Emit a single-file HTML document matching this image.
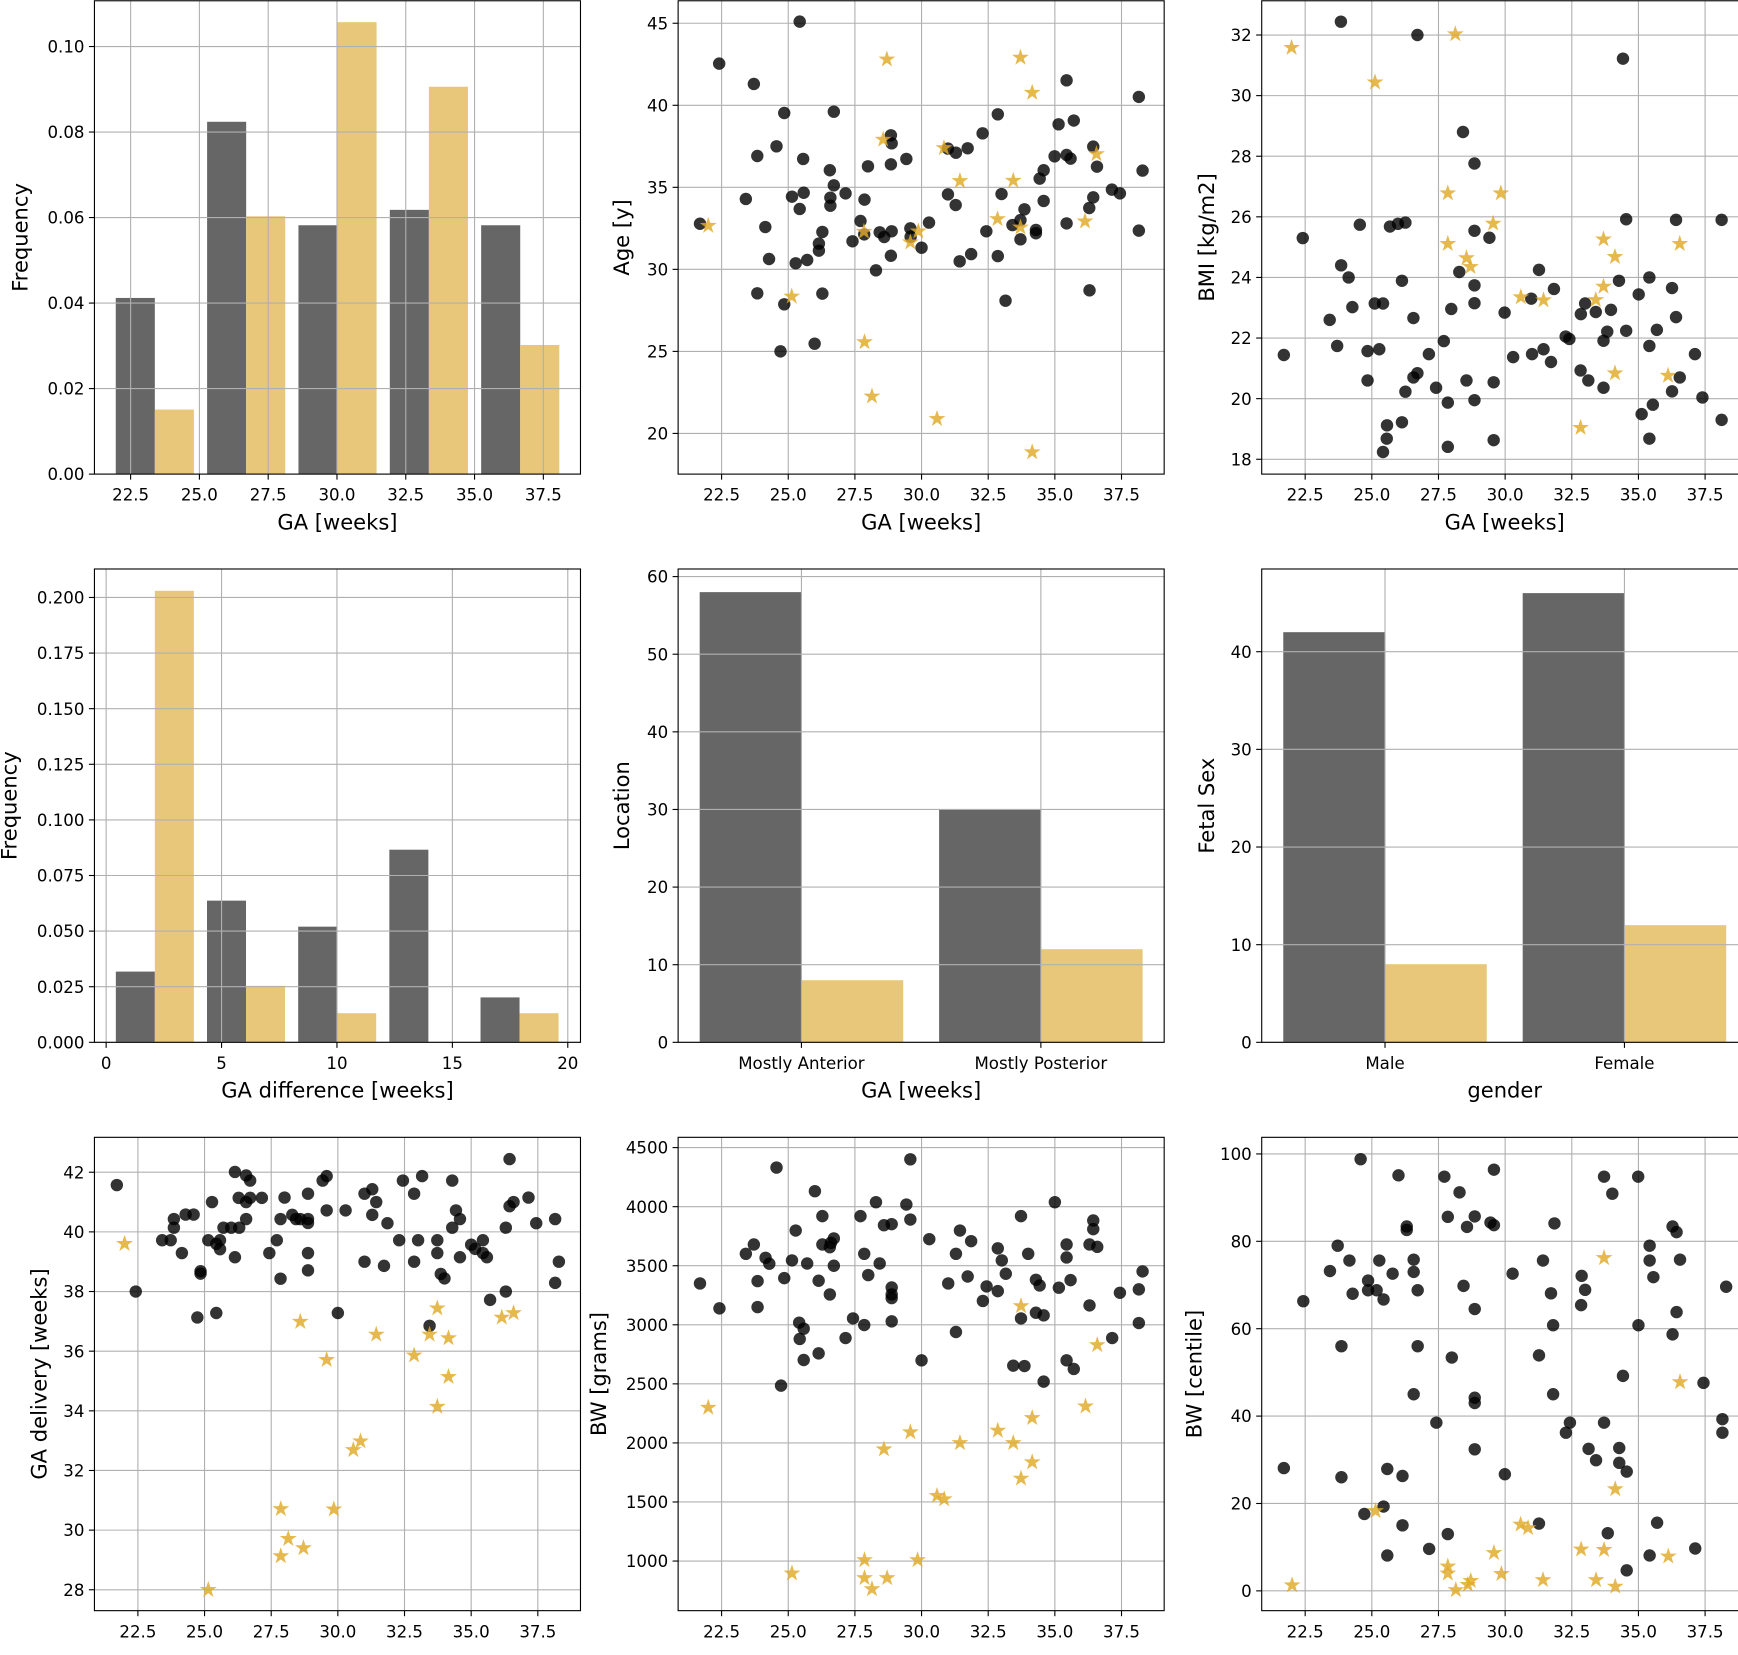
<!DOCTYPE html>
<html><head><meta charset="utf-8">
<style>
html,body{margin:0;padding:0;background:#fff;}
svg{display:block;}
text{font-family:"DejaVu Sans","Liberation Sans",sans-serif;fill:#000;}
</style></head>
<body>
<svg id="fig" xmlns="http://www.w3.org/2000/svg" width="1738" height="1655" viewBox="0 0 1568 1493" preserveAspectRatio="none"></svg>
<script>
// ---------- DATA ----------
const gaTicks = [22.5, 25.0, 27.5, 30.0, 32.5, 35.0, 37.5];
// Panel 1: GA histogram
const gaHistStart = 21.96, gaHistBin = 3.32;
const gaHistCtrl = [0.0412, 0.0824, 0.0582, 0.0618, 0.0582];
const gaHistCase = [0.0151, 0.0603, 0.1057, 0.0906, 0.0302];
const gaHistYTicks = [0.00, 0.02, 0.04, 0.06, 0.08, 0.10];
// Panel 4: GA difference histogram
const diffStart = 0.42, diffBin = 3.95;
const diffCtrl = [0.0318, 0.0637, 0.052, 0.0866, 0.0202];
const diffCase = [0.203, 0.0254, 0.0131, 0, 0.0131];
const diffXTicks = [0, 5, 10, 15, 20];
const diffYTicks = [0.000, 0.025, 0.050, 0.075, 0.100, 0.125, 0.150, 0.175, 0.200];
// Panel 5: location
const locCats = ["Mostly Anterior", "Mostly Posterior"];
const locCtrl = [58, 30];
const locCase = [8, 12];
const locYTicks = [0, 10, 20, 30, 40, 50, 60];
// Panel 6: fetal sex
const sexCats = ["Male", "Female"];
const sexCtrl = [42, 46];
const sexCase = [8, 12];
const sexYTicks = [0, 10, 20, 30, 40];
// Panel 2: Age
const ageYTicks = [20, 25, 30, 35, 40, 45];
const ageCtrl = [[25.43,45.1],[22.41,42.54],[23.71,41.3],[24.85,39.53],[26.71,39.61],[24.56,37.5],[23.84,36.91],[25.56,36.73],[28.85,38.17],[28.88,37.68],[28.85,36.4],[29.43,36.73],[27.99,36.28],[26.56,36.04],[26.71,35.12],[23.41,34.29],[25.14,34.43],[25.58,34.67],[26.58,34.37],[26.58,33.88],[27.15,34.63],[27.86,34.25],[25.43,33.68],[27.71,32.95],[24.14,32.58],[26.28,32.28],[27.85,32.13],[26.15,31.57],[26.15,31.14],[27.41,31.71],[28.43,32.26],[28.6,31.97],[28.88,32.32],[29.58,32.5],[29.59,31.99],[30.0,31.32],[30.28,32.85],[28.85,30.83],[24.28,30.63],[25.28,30.37],[25.71,30.57],[28.29,29.94],[23.84,28.54],[24.85,27.87],[26.28,28.52],[25.99,25.47],[24.71,25.0],[30.99,37.36],[31.29,37.11],[31.73,37.38],[32.29,38.29],[32.86,39.45],[30.99,34.57],[31.28,33.92],[32.43,32.32],[31.86,30.93],[31.43,30.49],[32.86,30.81],[33.15,28.09],[33.0,34.59],[33.41,32.7],[33.71,33.0],[33.86,33.66],[33.71,31.83],[34.29,32.4],[34.29,32.2],[34.99,36.89],[35.44,36.97],[35.59,36.75],[35.14,38.84],[35.71,39.07],[35.44,41.52],[34.43,35.53],[34.58,36.04],[34.58,34.17],[35.44,32.8],[36.3,28.72],[36.29,33.74],[36.44,34.39],[36.44,37.48],[36.58,36.26],[37.14,34.86],[37.44,34.63],[38.15,40.51],[38.29,36.02],[38.15,32.36],[21.69,32.78]];
const ageCase = [[22.0,32.66],[28.7,42.8],[33.71,42.91],[34.15,40.77],[28.56,37.91],[30.84,37.4],[31.44,35.39],[33.44,35.41],[36.56,37.03],[32.85,33.07],[33.71,32.56],[36.13,32.93],[27.84,32.3],[29.88,32.32],[29.58,31.65],[25.13,28.35],[27.86,25.57],[28.14,22.26],[30.58,20.89],[34.15,18.86]];
// Panel 3: BMI
const bmiYTicks = [18, 20, 22, 24, 26, 28, 30, 32];
const bmiCtrl = [[23.84,32.44],[26.71,32.0],[34.42,31.22],[28.42,28.8],[28.85,27.76],[24.55,25.74],[22.41,25.3],[25.68,25.68],[25.98,25.77],[26.26,25.81],[28.85,25.54],[29.41,25.31],[34.54,25.92],[36.41,25.9],[38.12,25.9],[23.85,24.4],[24.13,24.0],[26.13,23.89],[28.28,24.18],[31.27,24.25],[28.85,23.74],[31.83,23.62],[34.27,23.89],[35.41,24.0],[36.26,23.65],[35.01,23.44],[24.27,23.02],[25.11,23.14],[25.42,23.14],[23.42,22.6],[26.56,22.66],[27.98,22.96],[28.85,23.15],[29.98,22.84],[30.98,23.3],[33.0,23.14],[32.84,22.79],[33.4,22.86],[33.97,22.93],[36.41,22.69],[33.83,22.21],[34.54,22.24],[35.69,22.27],[32.27,22.05],[32.41,21.97],[33.69,21.91],[23.7,21.74],[21.7,21.44],[24.84,21.57],[25.28,21.63],[27.14,21.47],[27.7,21.9],[30.3,21.37],[31.01,21.47],[31.44,21.63],[31.72,21.21],[35.41,21.74],[37.12,21.47],[24.84,20.6],[26.56,20.7],[26.71,20.84],[27.41,20.36],[28.55,20.6],[29.57,20.54],[32.83,20.93],[33.12,20.6],[33.69,20.36],[36.55,20.7],[36.26,20.24],[26.26,20.23],[27.85,19.87],[28.85,19.95],[37.4,20.04],[35.54,19.8],[35.12,19.49],[38.12,19.3],[25.57,19.12],[26.13,19.22],[25.56,18.68],[25.42,18.24],[27.85,18.41],[29.57,18.63],[35.41,18.68]];
const bmiCase = [[21.99,31.58],[28.13,32.03],[25.12,30.44],[27.85,26.78],[29.84,26.78],[29.55,25.78],[27.85,25.11],[28.55,24.64],[28.7,24.35],[33.69,25.26],[34.12,24.68],[36.55,25.11],[33.69,23.7],[33.4,23.26],[30.59,23.35],[31.44,23.25],[34.12,20.84],[36.11,20.76],[32.83,19.04]];
// Panel 7: GA delivery
const delYTicks = [28, 30, 32, 34, 36, 38, 40, 42];
const delCtrl = [[21.71,41.57],[22.42,38.0],[24.73,37.13],[25.44,37.28],[23.41,39.72],[23.73,39.72],[23.85,40.43],[23.85,40.14],[24.15,39.29],[24.29,40.58],[24.59,40.58],[24.85,38.68],[24.85,38.6],[25.14,39.72],[25.28,41.0],[25.44,39.6],[25.58,39.72],[25.58,39.42],[25.71,40.14],[26.0,40.14],[26.14,42.01],[26.14,39.15],[26.28,41.14],[26.3,40.14],[26.56,41.89],[26.71,41.72],[26.56,41.0],[26.71,41.14],[27.15,41.14],[26.56,40.43],[27.43,39.29],[27.71,39.72],[27.85,38.43],[27.85,40.43],[28.0,41.15],[28.29,40.57],[28.43,40.43],[28.59,40.43],[28.88,40.43],[28.88,40.3],[28.88,41.28],[28.88,39.29],[28.88,38.71],[29.43,41.72],[29.58,41.87],[29.58,40.72],[30.0,37.28],[30.29,40.72],[31.0,41.28],[31.29,41.43],[31.44,41.0],[31.29,40.57],[31.86,40.29],[31.0,39.0],[31.73,38.86],[32.3,39.72],[32.44,41.72],[32.86,41.28],[33.16,41.87],[33.01,39.72],[32.86,39.0],[33.44,36.85],[33.73,39.72],[33.73,39.29],[33.86,38.59],[34.0,38.44],[34.29,41.72],[34.43,40.72],[34.58,40.43],[34.29,40.14],[34.58,39.15],[35.0,39.57],[35.15,39.43],[35.44,39.72],[35.44,39.29],[35.59,39.15],[35.71,37.72],[36.3,38.0],[36.3,40.14],[36.44,40.86],[36.59,41.0],[36.44,42.44],[37.15,41.15],[37.44,40.29],[38.15,40.43],[38.29,39.0],[38.15,38.29]];
const delCase = [[22.0,39.6],[28.59,36.99],[29.58,35.71],[31.44,36.56],[32.86,35.86],[33.44,36.56],[33.73,37.44],[34.15,36.44],[34.15,35.14],[33.73,34.14],[36.15,37.13],[36.59,37.28],[30.85,32.98],[30.58,32.69],[27.86,30.71],[29.85,30.7],[28.14,29.71],[28.71,29.4],[27.86,29.13],[25.14,28.0]];
// Panel 8: BW grams
const bwYTicks = [1000, 1500, 2000, 2500, 3000, 3500, 4000, 4500];
const bwCtrl = [[29.58,4401],[24.56,4331],[26.0,4131],[28.29,4038],[29.43,4018],[35.0,4038],[26.28,3920],[27.71,3920],[28.59,3843],[28.88,3852],[29.58,3891],[33.73,3920],[36.44,3883],[36.44,3810],[25.28,3798],[30.29,3725],[31.44,3798],[31.86,3708],[23.71,3680],[26.28,3680],[26.56,3657],[26.71,3731],[26.6,3694],[32.86,3647],[35.44,3680],[36.3,3680],[36.59,3660],[23.41,3601],[24.15,3567],[24.29,3517],[25.14,3545],[25.71,3519],[26.71,3500],[27.85,3601],[28.43,3519],[31.29,3601],[33.01,3545],[34.0,3601],[35.44,3570],[21.69,3350],[23.85,3370],[24.85,3395],[26.14,3373],[28.0,3421],[26.56,3257],[28.88,3316],[28.88,3257],[28.88,3226],[31.0,3350],[31.73,3409],[32.44,3325],[32.86,3285],[33.16,3432],[34.29,3381],[34.43,3333],[35.15,3314],[35.59,3378],[32.3,3202],[37.44,3271],[38.15,3300],[38.29,3452],[36.3,3164],[22.42,3139],[23.85,3150],[33.73,3054],[34.29,3102],[34.58,3080],[25.41,3018],[25.58,2967],[25.43,2880],[27.43,3054],[27.85,2998],[28.88,3029],[27.15,2888],[31.29,2939],[38.15,3015],[37.15,2888],[25.58,2702],[26.14,2758],[30.0,2699],[33.44,2654],[33.86,2651],[35.44,2699],[35.71,2626],[34.58,2519],[24.73,2485]];
const bwCase = [[22.0,2299],[33.73,3159],[36.59,2829],[36.15,2310],[34.15,2212],[32.86,2105],[29.58,2091],[33.44,2000],[31.44,2000],[28.59,1947],[34.15,1837],[33.73,1699],[30.58,1552],[30.85,1524],[27.86,1009],[29.85,1009],[25.14,896],[27.86,857],[28.71,857],[28.14,763]];
// Panel 9: BW centile
const cenYTicks = [0, 20, 40, 60, 80, 100];
const cenCtrl = [[24.58,98.8],[26.0,95.1],[27.72,94.8],[29.58,96.4],[33.71,94.8],[34.99,94.8],[28.29,91.2],[34.02,90.9],[27.85,85.6],[28.86,85.7],[28.57,83.3],[26.31,83.4],[26.31,82.6],[29.45,84.3],[29.58,83.7],[31.85,84.1],[36.28,83.4],[36.43,82.1],[23.72,79.0],[35.42,79.0],[24.16,75.6],[25.28,75.6],[26.57,75.8],[31.42,75.6],[35.42,75.6],[36.56,75.8],[23.43,73.2],[25.78,72.6],[26.57,73.0],[30.28,72.6],[32.87,72.1],[35.56,71.8],[24.86,71.0],[24.86,68.8],[25.18,68.8],[24.28,68.0],[25.44,66.7],[26.72,68.8],[28.44,69.8],[31.72,68.1],[33.0,68.9],[32.85,65.4],[22.43,66.3],[38.29,69.6],[28.86,64.5],[36.43,63.8],[31.8,60.8],[35.0,60.8],[36.28,58.7],[23.86,56.0],[26.72,56.0],[28.0,53.4],[31.27,53.9],[34.42,49.2],[37.44,47.6],[26.57,45.0],[31.8,45.0],[28.86,44.2],[28.86,43.0],[27.42,38.5],[32.43,38.5],[33.71,38.5],[32.28,36.2],[38.15,39.3],[38.15,36.2],[28.86,32.4],[33.13,32.5],[34.28,32.7],[33.41,29.9],[34.28,29.3],[34.56,27.3],[21.7,28.1],[23.86,26.0],[25.58,27.9],[26.15,26.3],[29.99,26.7],[25.44,19.3],[24.72,17.6],[26.15,15.0],[27.85,13.0],[31.27,15.4],[33.85,13.2],[35.7,15.6],[27.15,9.6],[37.13,9.7],[25.58,8.1],[35.42,8.1],[34.56,4.7]];
const cenCase = [[22.01,1.3],[25.14,18.3],[33.71,76.2],[36.56,47.8],[34.13,23.3],[30.58,15.2],[30.86,14.4],[32.85,9.5],[33.71,9.4],[29.58,8.7],[27.85,5.6],[27.85,4.0],[29.86,3.9],[36.12,7.9],[31.42,2.5],[33.41,2.5],[34.13,1.0],[28.15,0.2],[28.6,1.4],[28.71,2.3]];

// ---------- LAYOUT ----------
const NS = "http://www.w3.org/2000/svg";
const svg = document.getElementById('fig');
const COLS = [85.2, 611.8, 1138.3], ROWS = [0.7, 513.3, 1026], PW = 438.5, PH = 427;
const GRAY = '#666666', YEL = '#e8c77a', DOT = 'rgba(0,0,0,0.8)', STAR = 'rgba(224,170,40,0.82)';

function mk(tag, attrs, parent) {
  const e = document.createElementNS(NS, tag);
  for (const k in attrs) e.setAttribute(k, attrs[k]);
  (parent || svg).appendChild(e);
  return e;
}

let clipId = 0;
function makePanel(name, col, row, xlim, ylim) {
  const L = COLS[col], T = ROWS[row];
  const g = mk('g', {});
  
  
  const sx = v => L + (v - xlim[0]) / (xlim[1] - xlim[0]) * PW;
  const sy = v => T + PH - (v - ylim[0]) / (ylim[1] - ylim[0]) * PH;
  const cid = 'clip' + (clipId++);
  const cp = mk('clipPath', {id: cid}, g);
  mk('rect', {x: L, y: T, width: PW, height: PH}, cp);
  const marks = mk('g', {'clip-path': 'url(#' + cid + ')'}, g);
  
  
  return {g, marks, sx, sy, L, T};
}

function grid(p, xt, yt) {
  const gg = mk('g', {}, p.marks);
  
  
  xt.forEach(v => mk('line', {x1: p.sx(v), x2: p.sx(v), y1: p.T, y2: p.T + PH, stroke: '#b0b0b0', 'stroke-width': 1}, gg));
  yt.forEach(v => mk('line', {x1: p.L, x2: p.L + PW, y1: p.sy(v), y2: p.sy(v), stroke: '#b0b0b0', 'stroke-width': 1}, gg));
}

function axes(p, xt, xlabels, yt, ylabels, xTitle, yTitle, yOff) {
  const ax = mk('g', {}, p.g);
  
  
  mk('rect', {x: p.L, y: p.T, width: PW, height: PH, fill: 'none', stroke: '#000', 'stroke-width': 1}, ax);
  const B = p.T + PH;
  xt.forEach((v, i) => {
    const x = p.sx(v);
    mk('line', {x1: x, x2: x, y1: B, y2: B + 5, stroke: '#000', 'stroke-width': 1}, ax);
    const t = mk('text', {x: x, y: B + 24, 'text-anchor': 'middle', 'font-size': 15}, ax);
    
    
    t.textContent = xlabels[i];
  });
  yt.forEach((v, i) => {
    const y = p.sy(v);
    mk('line', {x1: p.L - 5, x2: p.L, y1: y, y2: y, stroke: '#000', 'stroke-width': 1}, ax);
    const t = mk('text', {x: p.L - 9, y: y + 5.5, 'text-anchor': 'end', 'font-size': 15}, ax);
    
    
    t.textContent = ylabels[i];
  });
  if (xTitle) {
    const t = mk('text', {x: p.L + PW / 2, y: B + 50, 'text-anchor': 'middle', 'font-size': 19}, ax);
    
    
    t.textContent = xTitle;
  }
  const cy = p.T + PH / 2, cx = p.L - yOff;
  const t = mk('text', {x: cx, y: cy, 'text-anchor': 'middle', 'dominant-baseline': 'central', 'font-size': 19, transform: 'rotate(-90 ' + cx + ' ' + cy + ')'}, ax);
  
  
  t.textContent = yTitle;
}

function bars(p, starts, width, vals, color, nm) {
  vals.forEach((v, i) => {
    const x0 = p.sx(starts[i]), x1 = p.sx(starts[i] + width), y = p.sy(v), y0 = p.sy(0);
    const r = mk('rect', {x: x0, y: y, width: x1 - x0, height: y0 - y, fill: color}, p.marks);
    
    
  });
}

function dots(p, pts) {
  pts.forEach(d => {
    const c = mk('circle', {cx: p.sx(d[0]), cy: p.sy(d[1]), r: 5.6, fill: DOT}, p.marks);
    
    
  });
}

function stars(p, pts) {
  pts.forEach(d => {
    const cx = p.sx(d[0]), cy = p.sy(d[1]);
    let s = '';
    for (let k = 0; k < 10; k++) {
      const r = k % 2 ? 3.1 : 8;
      const a = -Math.PI / 2 + k * Math.PI / 5;
      s += (cx + r * Math.cos(a)).toFixed(2) + ',' + (cy + r * Math.sin(a)).toFixed(2) + ' ';
    }
    const e = mk('polygon', {points: s, fill: STAR}, p.marks);
    
    
  });
}

const fmt = (arr, d) => arr.map(v => v.toFixed(d));
const idx = n => Array.from({length: n}, (_, i) => i);

// ---------- Panel 1 ----------
(function () {
  const p = makePanel('ga-histogram', 0, 0, [21.185, 38.85], [0, 0.1107]);
  const bw = 1.42;
  const s1 = idx(gaHistCtrl.length).map(i => gaHistStart + i * gaHistBin);
  const s2 = s1.map(s => s + bw);
  bars(p, s1, bw, gaHistCtrl, GRAY, 'bar-control');
  bars(p, s2, bw, gaHistCase, YEL, 'bar-case');
  grid(p, gaTicks, gaHistYTicks);
  axes(p, gaTicks, fmt(gaTicks, 1), gaHistYTicks, fmt(gaHistYTicks, 2), 'GA [weeks]', 'Frequency', 67);
})();
// ---------- Panel 2 ----------
(function () {
  const p = makePanel('age-scatter', 1, 0, [20.87, 39.1], [17.52, 46.37]);
  grid(p, gaTicks, ageYTicks);
  dots(p, ageCtrl); stars(p, ageCase);
  axes(p, gaTicks, fmt(gaTicks, 1), ageYTicks, fmt(ageYTicks, 0), 'GA [weeks]', 'Age [y]', 51);
})();
// ---------- Panel 3 ----------
(function () {
  const p = makePanel('bmi-scatter', 2, 0, [20.87, 39.1], [17.51, 33.13]);
  grid(p, gaTicks, bmiYTicks);
  dots(p, bmiCtrl); stars(p, bmiCase);
  axes(p, gaTicks, fmt(gaTicks, 1), bmiYTicks, fmt(bmiYTicks, 0), 'GA [weeks]', 'BMI [kg/m2]', 50);
})();
// ---------- Panel 4 ----------
(function () {
  const p = makePanel('ga-difference-histogram', 0, 1, [-0.507, 20.55], [0, 0.2128]);
  const bw = 1.69;
  const s1 = idx(diffCtrl.length).map(i => diffStart + i * diffBin);
  const s2 = s1.map(s => s + bw);
  bars(p, s1, bw, diffCtrl, GRAY, 'bar-control');
  bars(p, s2, bw, diffCase, YEL, 'bar-case');
  grid(p, diffXTicks, diffYTicks);
  axes(p, diffXTicks, fmt(diffXTicks, 0), diffYTicks, fmt(diffYTicks, 3), 'GA difference [weeks]', 'Frequency', 77);
})();
// ---------- Panel 5 ----------
(function () {
  const p = makePanel('location-bars', 1, 1, [-0.515, 1.515], [0, 60.98]);
  const w = 0.425, c = idx(locCats.length);
  bars(p, c.map(i => i - w), w, locCtrl, GRAY, 'bar-control');
  bars(p, c.map(i => i), w, locCase, YEL, 'bar-case');
  grid(p, c, locYTicks);
  axes(p, c, locCats, locYTicks, fmt(locYTicks, 0), 'GA [weeks]', 'Location', 51);
})();
// ---------- Panel 6 ----------
(function () {
  const p = makePanel('fetal-sex-bars', 2, 1, [-0.515, 1.515], [0, 48.47]);
  const w = 0.425, c = idx(sexCats.length);
  bars(p, c.map(i => i - w), w, sexCtrl, GRAY, 'bar-control');
  bars(p, c.map(i => i), w, sexCase, YEL, 'bar-case');
  grid(p, c, sexYTicks);
  axes(p, c, sexCats, sexYTicks, fmt(sexYTicks, 0), 'gender', 'Fetal Sex', 50);
})();
// ---------- Panel 7 ----------
(function () {
  const p = makePanel('ga-delivery-scatter', 0, 2, [20.87, 39.1], [27.3, 43.17]);
  grid(p, gaTicks, delYTicks);
  dots(p, delCtrl); stars(p, delCase);
  axes(p, gaTicks, fmt(gaTicks, 1), delYTicks, fmt(delYTicks, 0), '', 'GA delivery [weeks]', 50);
})();
// ---------- Panel 8 ----------
(function () {
  const p = makePanel('bw-grams-scatter', 1, 2, [20.87, 39.1], [580, 4587]);
  grid(p, gaTicks, bwYTicks);
  dots(p, bwCtrl); stars(p, bwCase);
  axes(p, gaTicks, fmt(gaTicks, 1), bwYTicks, fmt(bwYTicks, 0), '', 'BW [grams]', 72);
})();
// ---------- Panel 9 ----------
(function () {
  const p = makePanel('bw-centile-scatter', 2, 2, [20.87, 39.1], [-4.53, 103.8]);
  grid(p, gaTicks, cenYTicks);
  dots(p, cenCtrl); stars(p, cenCase);
  axes(p, gaTicks, fmt(gaTicks, 1), cenYTicks, fmt(cenYTicks, 0), '', 'BW [centile]', 61);
})();
</script>
</body></html>
